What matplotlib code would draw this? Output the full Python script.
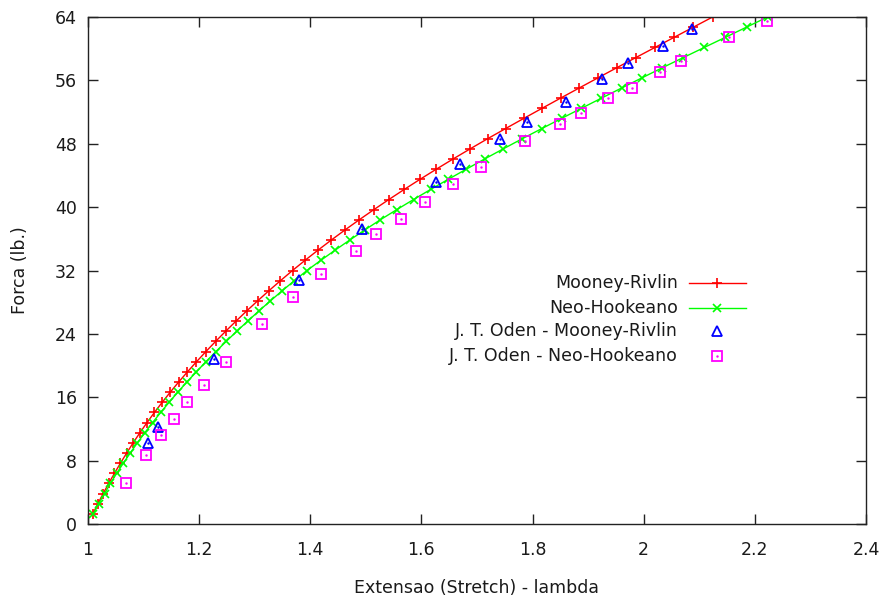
import matplotlib
matplotlib.use('Agg')
import matplotlib.pyplot as plt
from matplotlib.ticker import FixedLocator, FuncFormatter

# applied load steps (lb.), shared by both model curves
force = [1.28, 2.56, 3.84, 5.12, 6.40, 7.68, 8.96, 10.24, 11.52, 12.80,
         14.08, 15.36, 16.64, 17.92, 19.20, 20.48, 21.76, 23.04, 24.32, 25.60,
         26.88, 28.16, 29.44, 30.72, 32.00, 33.28, 34.56, 35.84, 37.12, 38.40,
         39.68, 40.96, 42.24, 43.52, 44.80, 46.08, 47.36, 48.64, 49.92, 51.20,
         52.48, 53.76, 55.04, 56.32, 57.60, 58.88, 60.16, 61.44, 62.72, 64.00]

# stretch computed with the Mooney-Rivlin model
mooney_lambda = [1.0087, 1.0177, 1.0273, 1.0372, 1.0476, 1.0584, 1.0696, 1.0812, 1.0934, 1.1062,
                 1.1195, 1.1335, 1.1480, 1.1631, 1.1789, 1.1952, 1.2121, 1.2295, 1.2476, 1.2662,
                 1.2853, 1.3051, 1.3254, 1.3464, 1.3680, 1.3905, 1.4137, 1.4377, 1.4625, 1.4880,
                 1.5143, 1.5414, 1.5692, 1.5977, 1.6270, 1.6570, 1.6878, 1.7192, 1.7515, 1.7842,
                 1.8172, 1.8504, 1.8839, 1.9177, 1.9516, 1.9859, 2.0203, 2.0549, 2.0894, 2.1240]

# stretch computed with the Neo-Hookean model
neo_lambda = [1.0095, 1.0193, 1.0297, 1.0404, 1.0516, 1.0636, 1.0760, 1.0888, 1.1022, 1.1162,
              1.1307, 1.1459, 1.1616, 1.1779, 1.1949, 1.2122, 1.2301, 1.2485, 1.2676, 1.2872,
              1.3073, 1.3281, 1.3494, 1.3714, 1.3940, 1.4189, 1.4445, 1.4709, 1.4981, 1.5260,
              1.5555, 1.5858, 1.6168, 1.6485, 1.6810, 1.7138, 1.7474, 1.7816, 1.8167, 1.8522,
              1.8880, 1.9240, 1.9603, 1.9969, 2.0336, 2.0713, 2.1091, 2.1471, 2.1850, 2.2230]

# reference results from J. T. Oden
oden_mr_lambda = [1.1086, 1.1256, 1.2276, 1.3790, 1.4930, 1.6260, 1.6700,
                  1.7405, 1.7900, 1.8595, 1.9256, 1.9720, 2.0340, 2.0865]
oden_mr_force = [10.27, 12.29, 20.83, 30.80, 37.30, 43.20, 45.40,
                 48.60, 50.80, 53.30, 56.20, 58.20, 60.30, 62.50]

oden_nh_lambda = [1.0679, 1.1040, 1.1310, 1.1550, 1.1790, 1.2080, 1.2480, 1.3130,
                  1.3690, 1.4200, 1.4830, 1.5190, 1.5630, 1.6060, 1.6570, 1.7080,
                  1.7870, 1.8490, 1.8877, 1.9357, 1.9797, 2.0288, 2.0667, 2.1537, 2.2216]
oden_nh_force = [5.18, 8.75, 11.24, 13.26, 15.36, 17.50, 20.40, 25.25,
                 28.70, 31.50, 34.40, 36.60, 38.50, 40.70, 42.90, 45.10,
                 48.30, 50.50, 51.90, 53.75, 55.10, 57.00, 58.50, 61.45, 63.50]

x_ticks = [1, 1.2, 1.4, 1.6, 1.8, 2, 2.2, 2.4]
y_ticks = [0, 8, 16, 24, 32, 40, 48, 56, 64]

labels = ['Mooney-Rivlin', 'Neo-Hookeano',
          'J. T. Oden - Mooney-Rivlin', 'J. T. Oden - Neo-Hookeano']

txt_color = '#1a1a1a'
fs = 12.5
plt.rcParams['font.family'] = ['DejaVu Sans']

fig = plt.figure(figsize=(8.87, 6.02), dpi=100)
ax = fig.add_axes([88/887, 1 - 524/602, 778/887, 507/602])

red_style = dict(color='#ff0000', lw=1.0, marker='+', ms=7, mew=1.2)
green_style = dict(color='#00ff00', lw=1.0, marker='x', ms=6, mew=1.2)
blue_style = dict(ls='none', marker='^', ms=6.5, mfc='none', mec='#0000ff', mew=1.3)
mag_style = dict(ls='none', marker='s', ms=7, mfc='none', mec='#ff00ff', mew=1.3)

ax.plot(mooney_lambda, force, **red_style)
ax.plot(neo_lambda, force, **green_style)
ax.plot(oden_mr_lambda, oden_mr_force, **blue_style)
ax.plot(oden_mr_lambda, oden_mr_force, ls='none', marker='.', ms=1.5, color='#0000ff')
ax.plot(oden_nh_lambda, oden_nh_force, **mag_style)
ax.plot(oden_nh_lambda, oden_nh_force, ls='none', marker='.', ms=1.5, color='#ff00ff')

ax.set_xlim(1, 2.4)
ax.set_ylim(0, 64)
ax.xaxis.set_major_locator(FixedLocator(x_ticks))
ax.yaxis.set_major_locator(FixedLocator(y_ticks))
ax.xaxis.set_major_formatter(FuncFormatter(lambda v, p: '%g' % v))
ax.yaxis.set_major_formatter(FuncFormatter(lambda v, p: '%g' % v))

ax.tick_params(direction='in', length=7, width=1.0, color='#222222',
               top=True, right=True, labelsize=fs, labelcolor=txt_color)
ax.tick_params(axis='x', pad=12)
ax.tick_params(axis='y', pad=8)
for s in ax.spines.values():
    s.set_linewidth(1.0)
    s.set_color('#222222')

ax.set_xlabel('Extensao (Stretch) - lambda', fontsize=fs, color=txt_color)
ax.set_ylabel('Forca (lb.)', fontsize=fs, color=txt_color)
ax.xaxis.set_label_coords(0.5, -0.108)
ax.yaxis.set_label_coords(-0.076, 0.5)

# key drawn gnuplot-style: right aligned text, sample to the right
rows_y = [0.4744, 0.4270, 0.3807, 0.3323]
tx, lx0, lx1, lxc = 0.7584, 0.7725, 0.8458, 0.8091
for lab, yy in zip(labels, rows_y):
    ax.text(tx, yy, lab, transform=ax.transAxes, ha='right', va='center',
            fontsize=fs, color=txt_color)
ax.plot([lx0, lx1], [rows_y[0]] * 2, transform=ax.transAxes, color='#ff0000', lw=1.0)
ax.plot([lxc], [rows_y[0]], transform=ax.transAxes, **{k: v for k, v in red_style.items() if k != 'lw'})
ax.plot([lx0, lx1], [rows_y[1]] * 2, transform=ax.transAxes, color='#00ff00', lw=1.0)
ax.plot([lxc], [rows_y[1]], transform=ax.transAxes, **{k: v for k, v in green_style.items() if k != 'lw'})
ax.plot([lxc], [rows_y[2]], transform=ax.transAxes, **blue_style)
ax.plot([lxc], [rows_y[3]], transform=ax.transAxes, **mag_style)
ax.plot([lxc], [rows_y[3]], transform=ax.transAxes, ls='none', marker='.', ms=1.5, color='#ff00ff')

fig.savefig('out.png', dpi=100)
